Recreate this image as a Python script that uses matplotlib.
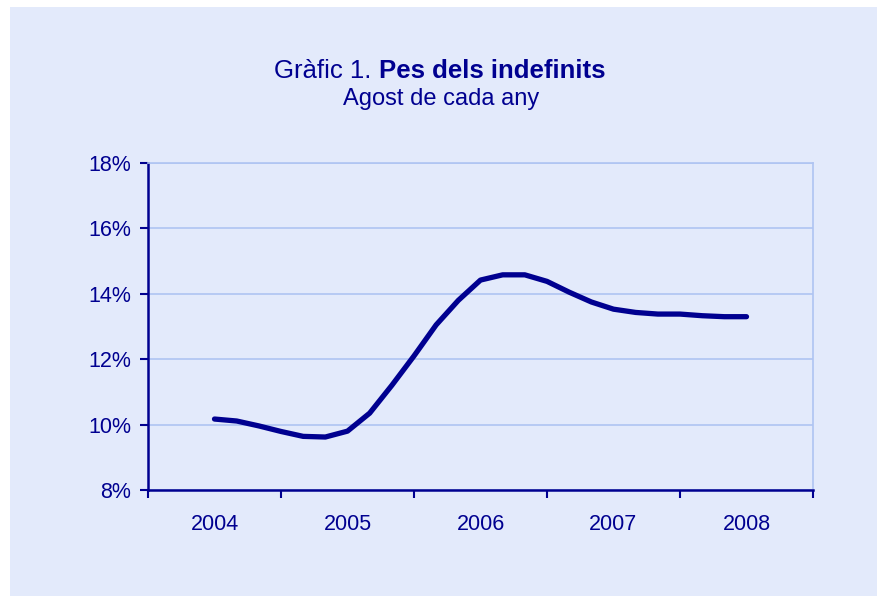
import numpy as np
import matplotlib.pyplot as plt
from matplotlib.patches import Rectangle
from matplotlib.ticker import FuncFormatter

plt.rcParams['font.family'] = ['Liberation Sans', 'DejaVu Sans']

# dades: pes dels indefinits (%), cada dos mesos d'agost 2004 a agost 2008
years = ['2004', '2005', '2006', '2007', '2008']
share = [10.17, 10.11, 9.96, 9.79, 9.64, 9.62, 9.80, 10.35, 11.20, 12.10,
         13.05, 13.80, 14.42, 14.58, 14.58, 14.38, 14.05, 13.75, 13.53,
         13.43, 13.38, 13.38, 13.33, 13.30, 13.30]
steps_per_year = 6

navy = '#000090'
bg = '#E3EAFB'
grid_c = '#AFC4F2'

fig = plt.figure(figsize=(8.77, 5.96), dpi=100)
fig.patch.set_facecolor('white')
fig.patches.append(Rectangle((10 / 877, 0), 1, 1 - 7 / 596, transform=fig.transFigure,
                             facecolor=bg, edgecolor='none', zorder=-5))

ax = fig.add_axes([148 / 877, 1 - 490 / 596, (813 - 148) / 877, (490 - 163) / 596])
ax.set_facecolor(bg)
ax.set_zorder(2)

x = np.arange(len(share)) / steps_per_year
ax.plot(x, share, color=navy, lw=3.8, solid_capstyle='round', solid_joinstyle='round', zorder=3)

ax.set_xlim(-0.5, len(years) - 0.5)
ax.set_ylim(8, 18)
ax.set_yticks(np.arange(8, 19, 2))
ax.yaxis.set_major_formatter(FuncFormatter(lambda v, p: f'{v:.0f}%'))
ax.set_xticks(range(len(years)))
ax.set_xticklabels(years)
ax.set_xticks(np.arange(-0.5, len(years)), minor=True)

ax.grid(axis='y', color=grid_c, lw=1.2, zorder=1)
ax.tick_params(axis='x', which='major', length=0, pad=17, labelsize=15.5, labelcolor=navy)
ax.tick_params(axis='x', which='minor', length=6, width=1.5, color=navy, direction='out')
ax.tick_params(axis='y', length=6, width=1.5, color=navy, pad=6, labelsize=15.5, labelcolor=navy)

for s in ['left', 'bottom']:
    ax.spines[s].set_color(navy)
    ax.spines[s].set_linewidth(1.8)
for s in ['top', 'right']:
    ax.spines[s].set_color(grid_c)
    ax.spines[s].set_linewidth(1.2)

fig.text(371 / 877, 1 - 78 / 596, 'Gràfic 1.', ha='right', va='baseline',
         fontsize=18.5, color=navy)
fig.text(379 / 877, 1 - 78 / 596, 'Pes dels indefinits', ha='left', va='baseline',
         fontsize=18.5, fontweight='bold', color=navy)
fig.text(441 / 877, 1 - 105 / 596, 'Agost de cada any', ha='center', va='baseline',
         fontsize=17, color=navy)

fig.savefig('out.png', dpi=100, facecolor=fig.get_facecolor())
